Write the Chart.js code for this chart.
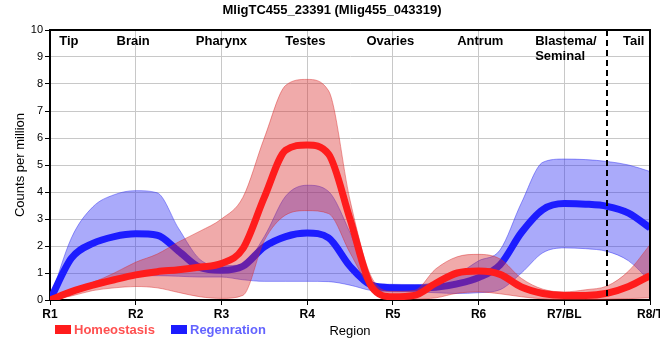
<!DOCTYPE html>
<html>
<head>
<meta charset="utf-8">
<script src="https://cdn.jsdelivr.net/npm/chart.js@4.4.0/dist/chart.umd.min.js"></script>
<style>
  html, body { margin: 0; padding: 0; background: #ffffff; }
  #wrap { width: 660px; height: 360px; position: relative; }
</style>
</head>
<body>
<div id="wrap"><canvas id="c" width="660" height="360"></canvas></div>
<script>
// ---- data ----
const chartTitle = 'MligTC455_23391 (Mlig455_043319)';
const xTickLabels = ['R1', 'R2', 'R3', 'R4', 'R5', 'R6', 'R7/BL', 'R8/T'];
const regionNames = ['Tip', 'Brain', 'Pharynx', 'Testes', 'Ovaries', 'Antrum', 'Blastema/', 'Seminal', 'Tail'];
const regionPositions = [0.22, 0.97, 2.0, 2.98, 3.97, 5.02, 5.66, 5.66, 6.81];
const boundaryPosition = 6.5;
const seriesNames = ['Homeostasis', 'Regenration'];
const positions = [0, 0.25, 0.5, 0.75, 1, 1.25, 1.5, 1.75, 2, 2.25, 2.5, 2.75, 3, 3.25, 3.5, 3.75,
                   4, 4.25, 4.5, 4.75, 5, 5.25, 5.5, 5.75, 6, 6.25, 6.5, 6.75, 7];
const homeostasis = [0, 0.31, 0.55, 0.75, 0.93, 1.05, 1.12, 1.22, 1.35, 1.9, 3.8, 5.55, 5.74, 5.4, 3.0, 0.5,
                     0.12, 0.17, 0.62, 1.0, 1.07, 0.95, 0.48, 0.24, 0.17, 0.17, 0.25, 0.5, 0.9];
const homeostasisUpper = [0, 0.35, 0.65, 1.0, 1.4, 1.7, 2.15, 2.55, 3.0, 3.8, 6.0, 7.95, 8.17, 7.75, 3.7, 0.85,
                          0.32, 0.35, 1.15, 1.6, 1.69, 1.52, 0.8, 0.4, 0.3, 0.38, 0.52, 1.07, 2.05];
const homeostasisLower = [0, 0.15, 0.35, 0.45, 0.5, 0.45, 0.28, 0.12, 0.06, 0.17, 2.2, 3.15, 3.31, 3.2, 1.75, 0.4,
                          0.05, 0.04, 0.08, 0.25, 0.3, 0.23, 0.12, 0.04, 0.02, 0.02, 0.03, 0.05, 0.08];
const regeneration = [0, 1.55, 2.1, 2.35, 2.45, 2.4, 1.81, 1.2, 1.1, 1.25, 1.97, 2.35, 2.48, 2.3, 1.25, 0.55,
                      0.45, 0.44, 0.47, 0.6, 0.83, 1.3, 2.5, 3.35, 3.57, 3.55, 3.47, 3.22, 2.67];
const regenerationUpper = [0, 2.3, 3.45, 3.9, 4.05, 3.97, 2.65, 1.5, 1.27, 1.32, 2.35, 3.85, 4.25, 4.02, 2.5, 0.65,
                           0.58, 0.57, 0.65, 0.95, 1.45, 1.85, 3.6, 5.1, 5.22, 5.2, 5.13, 5.0, 4.76];
const regenerationLower = [0, 0.35, 0.65, 0.8, 0.9, 0.9, 0.88, 0.85, 0.85, 0.75, 0.69, 0.69, 0.69, 0.68, 0.55, 0.35,
                           0.3, 0.3, 0.27, 0.24, 0.27, 0.38, 1.0, 1.75, 1.93, 1.9, 1.8, 1.45, 0.7];

const pts = arr => arr.map((v, i) => ({ x: positions[i], y: v }));

const FONT = '"Liberation Sans", Arial, sans-serif';
const RED = 'rgb(255,28,28)';
const BLUE = 'rgb(28,28,255)';
const RED_FILL = 'rgba(217,42,42,0.4)';
const BLUE_FILL = 'rgba(42,42,242,0.4)';
const RED_EDGE = 'rgba(217,42,42,0.45)';
const BLUE_EDGE = 'rgba(42,42,242,0.45)';

const lineDs = (label, arr, color, order) => ({
  label, data: pts(arr), borderColor: color, backgroundColor: color, borderWidth: 7,
  pointRadius: 0, fill: false, cubicInterpolationMode: 'monotone', order
});
const bandDs = (label, arr, edge, fillColor, fill, order) => ({
  label, data: pts(arr), borderColor: edge, backgroundColor: fillColor, borderWidth: 1,
  pointRadius: 0, fill, cubicInterpolationMode: 'monotone', order
});

const decorations = {
  id: 'decorations',
  afterDraw(chart) {
    const ctx = chart.ctx;
    const a = chart.chartArea;
    const xs = chart.scales.x;
    ctx.save();
    // frame top & right
    ctx.strokeStyle = '#000';
    ctx.lineWidth = 2;
    ctx.beginPath();
    ctx.moveTo(a.left, a.top); ctx.lineTo(a.right, a.top); ctx.lineTo(a.right, a.bottom);
    ctx.stroke();
    // dashed boundary
    const bx = Math.round(xs.getPixelForValue(boundaryPosition));
    ctx.setLineDash([6, 4]);
    ctx.beginPath();
    ctx.moveTo(bx, a.top); ctx.lineTo(bx, a.bottom + 5);
    ctx.stroke();
    ctx.setLineDash([]);
    // region names
    ctx.fillStyle = '#000';
    ctx.font = 'bold 13px ' + FONT;
    ctx.textBaseline = 'middle';
    regionNames.forEach((n, i) => {
      const px = xs.getPixelForValue(regionPositions[i]);
      if (n === 'Seminal') {
        ctx.textAlign = 'left';
        ctx.fillText(n, px, a.top + 26);
      } else if (n === 'Blastema/') {
        ctx.textAlign = 'left';
        ctx.fillText(n, px, a.top + 11);
      } else {
        ctx.textAlign = 'center';
        ctx.fillText(n, px, a.top + 11);
      }
    });
    // title
    ctx.textAlign = 'center';
    ctx.font = 'bold 13px ' + FONT;
    ctx.fillText(chartTitle, 332, 10);
    // axis titles
    ctx.font = '13px ' + FONT;
    ctx.fillText('Region', (a.left + a.right) / 2, 331);
    ctx.save();
    ctx.translate(20, (a.top + a.bottom) / 2);
    ctx.rotate(-Math.PI / 2);
    ctx.fillText('Counts per million', 0, 0);
    ctx.restore();
    // legend
    ctx.textAlign = 'left';
    ctx.font = 'bold 13px ' + FONT;
    ctx.fillStyle = RED;
    ctx.fillRect(55, 325, 16, 9);
    ctx.fillStyle = 'rgb(255,80,80)';
    ctx.fillText(seriesNames[0], 74, 330);
    ctx.fillStyle = BLUE;
    ctx.fillRect(171, 325, 16, 9);
    ctx.fillStyle = 'rgb(100,100,255)';
    ctx.fillText(seriesNames[1], 190, 330);
    ctx.restore();
  }
};

new Chart(document.getElementById('c'), {
  type: 'line',
  data: {
    datasets: [
      lineDs(seriesNames[0], homeostasis, RED, 0),
      bandDs(seriesNames[0] + ' upper', homeostasisUpper, RED_EDGE, RED_FILL, '+1', 1),
      bandDs(seriesNames[0] + ' lower', homeostasisLower, RED_EDGE, RED_FILL, false, 1),
      lineDs(seriesNames[1], regeneration, BLUE, 2),
      bandDs(seriesNames[1] + ' upper', regenerationUpper, BLUE_EDGE, BLUE_FILL, '+1', 3),
      bandDs(seriesNames[1] + ' lower', regenerationLower, BLUE_EDGE, BLUE_FILL, false, 3)
    ]
  },
  options: {
    responsive: false,
    animation: false,
    layout: { padding: { top: 30, right: 10, left: 0, bottom: 0 } },
    plugins: { legend: { display: false }, tooltip: { enabled: false }, title: { display: false } },
    scales: {
      x: {
        type: 'linear', min: 0, max: 7,
        afterFit: s => { s.height = 60; s.paddingLeft = 0; s.paddingRight = 0; },
        ticks: {
          stepSize: 1, autoSkip: false, maxRotation: 0, padding: 2,
          color: '#000', font: { family: FONT, size: 12, weight: 'bold' },
          callback: v => xTickLabels[v] ?? ''
        },
        grid: { color: '#c8c8c8', lineWidth: 1, tickColor: '#000', tickLength: 5 },
        border: { display: true, color: '#000', width: 2 }
      },
      y: {
        min: 0, max: 10,
        afterFit: s => { s.width = 50; s.paddingTop = 0; s.paddingBottom = 0; },
        ticks: { stepSize: 1, padding: 2, color: '#000', font: { family: FONT, size: 11 } },
        grid: { color: '#c8c8c8', lineWidth: 1, tickColor: '#000', tickLength: 5 },
        border: { display: true, color: '#000', width: 2 }
      }
    }
  },
  plugins: [decorations]
});
</script>
</body>
</html>
